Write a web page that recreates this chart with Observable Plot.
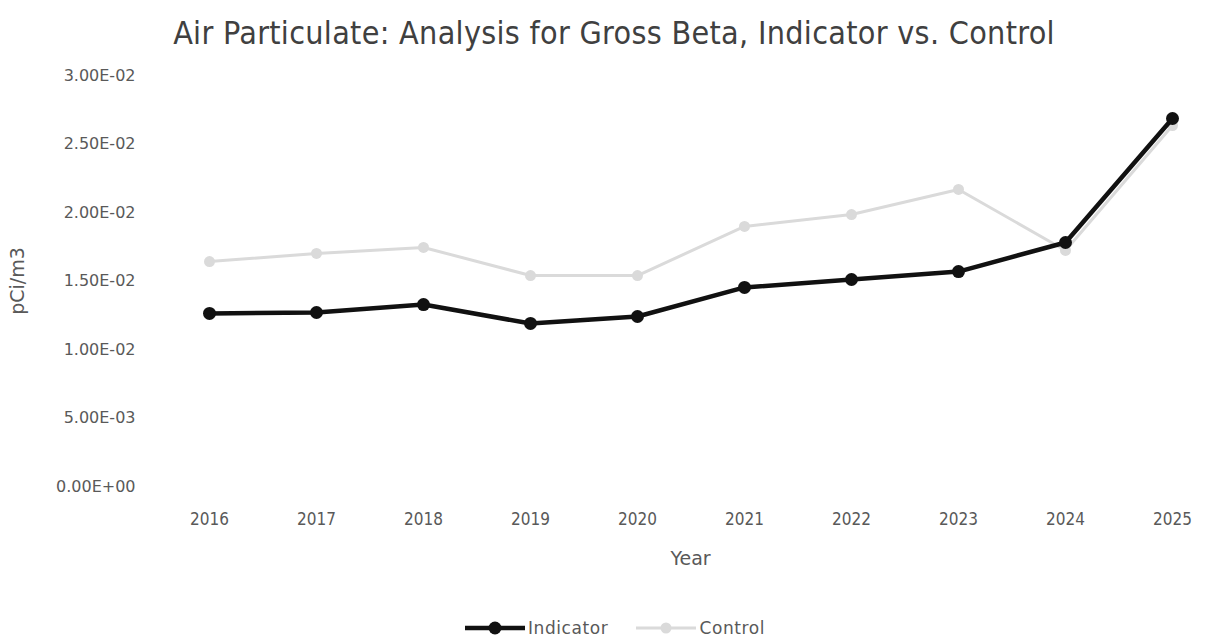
<!DOCTYPE html>
<html>
<head>
<meta charset="utf-8">
<script src="https://cdn.jsdelivr.net/npm/d3@7"></script>
<script src="https://cdn.jsdelivr.net/npm/@observablehq/plot@0.6"></script>
<style>
  html, body { margin: 0; padding: 0; background: #fff; }
  body { width: 1207px; height: 641px; overflow: hidden; font-family: "DejaVu Sans Condensed", "DejaVu Sans", sans-serif; }
  #title { position: absolute; left: 0; top: 14px; width: 1228px; text-align: center; font-size: 32px; color: #404040; font-family: "DejaVu Sans Condensed", sans-serif; letter-spacing: 0.3px; }
  #chart { position: absolute; left: 0; top: 60px; }
  #legend { position: absolute; top: 618px; left: 0; width: 1230px; display: flex; justify-content: center; align-items: center; font-size: 17px; letter-spacing: 0.6px; color: #595959; font-family: "DejaVu Sans", sans-serif; }
  .item { display: flex; align-items: center; margin: 0 14px; }
  .item svg { margin-right: 3px; }
</style>
</head>
<body>
<div id="title">Air Particulate: Analysis for Gross Beta, Indicator vs. Control</div>
<div id="chart"></div>
<div id="legend"></div>
<script>
const years = ["2016","2017","2018","2019","2020","2021","2022","2023","2024","2025"];
const indicator = [0.01263, 0.01270, 0.01328, 0.01190, 0.01241, 0.01453, 0.01511, 0.01569, 0.01781, 0.02686];
const control   = [0.01642, 0.01701, 0.01745, 0.01540, 0.01540, 0.01898, 0.01985, 0.02168, 0.01723, 0.02635];
const yTicks = [0, 0.005, 0.01, 0.015, 0.02, 0.025, 0.03];
const seriesNames = ["Indicator", "Control"];
const seriesColors = ["#111111", "#dadada"];

const indData = years.map((y, i) => ({year: y, value: indicator[i]}));
const ctlData = years.map((y, i) => ({year: y, value: control[i]}));

function sci(d) {
  if (d === 0) return "0.00E+00";
  const e = Math.floor(Math.log10(Math.abs(d)) + 1e-9);
  const m = d / Math.pow(10, e);
  const sign = e < 0 ? "-" : "+";
  const ae = Math.abs(e);
  return m.toFixed(2) + "E" + sign + (ae < 10 ? "0" + ae : "" + ae);
}

const plot = Plot.plot({
  width: 1207,
  height: 520,
  marginLeft: 205,
  marginRight: 32,
  marginTop: 15,
  marginBottom: 94,
  style: { fontFamily: "DejaVu Sans, sans-serif", fontSize: "16px", color: "#595959", background: "transparent" },
  x: { type: "point", domain: years, padding: 0, label: "Year", labelAnchor: "center", labelOffset: 78, tickSize: 0, tickPadding: 26 },
  y: { domain: [0, 0.03], ticks: yTicks, tickFormat: sci, label: "pCi/m3", labelArrow: "none", labelAnchor: "center", labelOffset: 195, tickSize: 0, tickPadding: 70 },
  marks: [
    Plot.line(ctlData, { x: "year", y: "value", stroke: seriesColors[1], strokeWidth: 3 }),
    Plot.dot(ctlData, { x: "year", y: "value", fill: seriesColors[1], r: 5.5 }),
    Plot.line(indData, { x: "year", y: "value", stroke: seriesColors[0], strokeWidth: 4.5 }),
    Plot.dot(indData, { x: "year", y: "value", fill: seriesColors[0], r: 6.5 })
  ]
});
document.getElementById("chart").appendChild(plot);

// axis label styling; drop any arrow glyph left by older versions
plot.querySelectorAll("[aria-label='x-axis label'] text, [aria-label='y-axis label'] text").forEach(t => {
  t.style.fontSize = "19px";
  t.textContent = t.textContent.replace(/\s*[→↑←↓]\s*/g, "");
});
plot.querySelectorAll("[aria-label='x-axis tick label'] text").forEach(t => {
  t.style.fontFamily = "DejaVu Sans Condensed, sans-serif";
  t.style.fontSize = "17px";
});

const legend = document.getElementById("legend");
seriesNames.forEach((name, i) => {
  const item = document.createElement("div");
  item.className = "item";
  const sw = i === 0 ? 4.5 : 3, r = i === 0 ? 6.5 : 5.5;
  item.innerHTML = `<svg width="60" height="16"><line x1="0" y1="8" x2="60" y2="8" stroke="${seriesColors[i]}" stroke-width="${sw}"/><circle cx="30" cy="8" r="${r}" fill="${seriesColors[i]}"/></svg><span>${name}</span>`;
  legend.appendChild(item);
});
</script>
</body>
</html>
